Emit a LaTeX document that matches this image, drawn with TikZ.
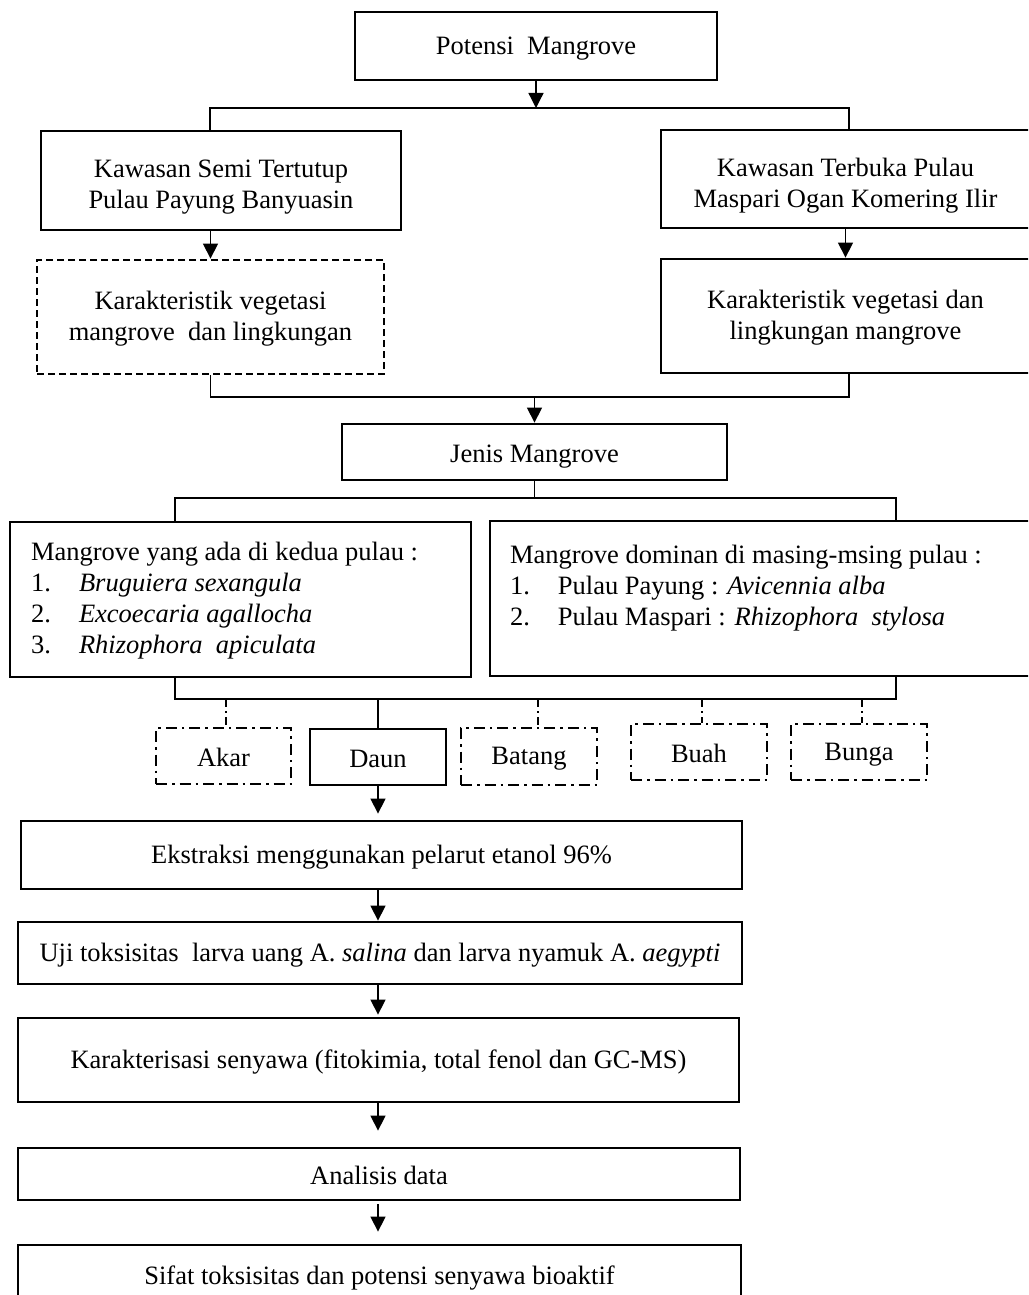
\documentclass[tikz,border=0pt]{standalone}
\usepackage{fontspec}
\setmainfont{Liberation Serif}
\usetikzlibrary{arrows.meta,positioning}
\newcommand{\numbox}[1]{\makebox[48pt][l]{#1}}

\begin{document}
\begin{tikzpicture}[x=1pt,y=-1pt,
    font=\fontsize{26.5}{31}\selectfont,
    box/.style={draw,line width=2.8pt,align=center,inner sep=0pt},
    dashbox/.style={box,dash pattern=on 7pt off 4pt},
    dotbox/.style={box,line width=2.5pt,dash pattern=on 11pt off 5pt on 2.5pt off 5pt},
    conn/.style={line width=1.3pt},
    dotconn/.style={line width=1.5pt,dash pattern=on 8pt off 4pt on 2pt off 4pt},
    arr/.style={conn,-{Triangle[length=15pt,width=15pt]}}]

    \clip (0,0) rectangle (1028,1295);

    % top part
    \node[box,minimum width=362pt,minimum height=68pt] (potensi) at (536,46) {\rule{0pt}{22pt}Potensi\ \ Mangrove};
    \node[box,minimum width=360pt,minimum height=99pt] (kawA) at (221,180.5) {\rule{0pt}{31pt}Kawasan Semi Tertutup\\Pulau Payung Banyuasin};
    \node[box,minimum width=369pt,minimum height=98pt] (kawB) at (845.5,179) {\rule{0pt}{31pt}Kawasan Terbuka Pulau\\Maspari Ogan Komering Ilir};
    \node[dashbox,minimum width=347pt,minimum height=114pt] (karA) at (210.5,317) {\rule{0pt}{22pt}Karakteristik vegetasi\\mangrove\ \ dan lingkungan};
    \node[box,minimum width=369pt,minimum height=114pt] (karB) at (845.5,316) {\rule{0pt}{22pt}Karakteristik vegetasi dan\\lingkungan mangrove};
    \node[box,minimum width=385pt,minimum height=56pt] (jenis) at (534.5,452) {\rule{0pt}{26pt}Jenis Mangrove};

    % the two lists
    \node[box,minimum width=461pt,minimum height=155pt] (mgA) at (240.5,599.5)
        {\parbox[c][151pt][t]{419pt}{\rule{0pt}{36pt}Mangrove yang ada di kedua pulau :\\
        \numbox{1.}\textit{Bruguiera sexangula}\\
        \numbox{2.}\textit{Excoecaria agallocha}\\
        \numbox{3.}\textit{Rhizophora\ \ apiculata}}};
    \node[box,minimum width=540pt,minimum height=155pt] (mgB) at (760,598.5)
        {\parbox[c][151pt][t]{500pt}{\rule{0pt}{40pt}Mangrove dominan di masing-msing pulau :\\
        \numbox{1.}Pulau Payung : \textit{Avicennia alba}\\
        \numbox{2.}Pulau Maspari : \textit{Rhizophora\ \ stylosa}}};

    % plant parts
    \node[dotbox,minimum width=135pt,minimum height=56pt] (akar) at (223.5,756) {\rule{0pt}{22pt}Akar};
    \node[box,minimum width=136pt,minimum height=56pt] (daun) at (378,757) {\rule{0pt}{22pt}Daun};
    \node[dotbox,minimum width=136pt,minimum height=57pt] (batang) at (529,756.5) {\rule{0pt}{22pt}Batang};
    \node[dotbox,minimum width=136pt,minimum height=56pt] (buah) at (699,752) {\rule{0pt}{22pt}Buah};
    \node[dotbox,minimum width=136pt,minimum height=56pt] (bunga) at (859,752) {\rule{0pt}{22pt}Bunga};

    % steps
    \node[box,minimum width=721pt,minimum height=68pt] (ekstraksi) at (381.5,855) {\rule{0pt}{22pt}Ekstraksi menggunakan pelarut etanol 96\%};
    \node[box,minimum width=724pt,minimum height=62pt] (uji) at (380,953) {\rule{0pt}{22pt}Uji toksisitas\ \ larva uang A. \textit{salina} dan larva nyamuk A. \textit{aegypti}};
    \node[box,minimum width=721pt,minimum height=84pt] (karakter) at (378.5,1060) {\rule{0pt}{22pt}Karakterisasi senyawa (fitokimia, total fenol dan GC-MS)};
    \node[box,minimum width=722pt,minimum height=52pt] (analisis) at (379,1174) {\rule{0pt}{22pt}Analisis data};
    \node[box,minimum width=723pt,minimum height=62pt] (sifat) at (379.5,1276) {\rule{0pt}{22pt}Sifat toksisitas dan potensi senyawa bioaktif};

    \coordinate (busA) at (536,108);
    \coordinate (busB) at (534.5,397);
    \coordinate (busC) at (534.5,498);
    \coordinate (busD) at (378,699);

    % connectors
    \draw[arr] (potensi.south) -- (busA);
    \draw[conn] ([xshift=-11pt]kawA.north) |- (busA) -| ([xshift=3.5pt]kawB.north);
    \draw[arr] (kawA.south -| karA.north) -- (karA.north);
    \draw[arr] (kawB.south) -- (karB.north);
    \draw[conn] (karA.south) |- (busB) -| ([xshift=3.5pt]karB.south);
    \draw[arr] (busB) -- (jenis.north);
    \draw[conn] (jenis.south) -- (busC);
    \draw[conn] ([xshift=-65.5pt]mgA.north) |- (busC) -| ([xshift=136pt]mgB.north);
    \draw[conn] ([xshift=-65.5pt]mgA.south) |- (busD) -| ([xshift=136pt]mgB.south);
    \draw[conn] (busD) -- (daun.north);
    \foreach \n/\s in {akar/2.5,batang/9,buah/3,bunga/3}
        \draw[dotconn] ([xshift=\s pt]\n.north |- busD) -- ([xshift=\s pt]\n.north);

    \draw[arr,shorten >=6pt] (daun.south) -- (daun.south |- ekstraksi.north);
    \draw[arr] (ekstraksi.south -| daun.south) -- (uji.north -| daun.south);
    \draw[arr,shorten >=2pt] (uji.south -| daun.south) -- (karakter.north -| daun.south);
    \draw[arr,shorten >=16pt] (karakter.south -| daun.south) -- (analisis.north -| daun.south);
    \draw[arr,shorten <=3pt,shorten >=12pt] (analisis.south -| daun.south) -- (sifat.north -| daun.south);
\end{tikzpicture}
\end{document}
